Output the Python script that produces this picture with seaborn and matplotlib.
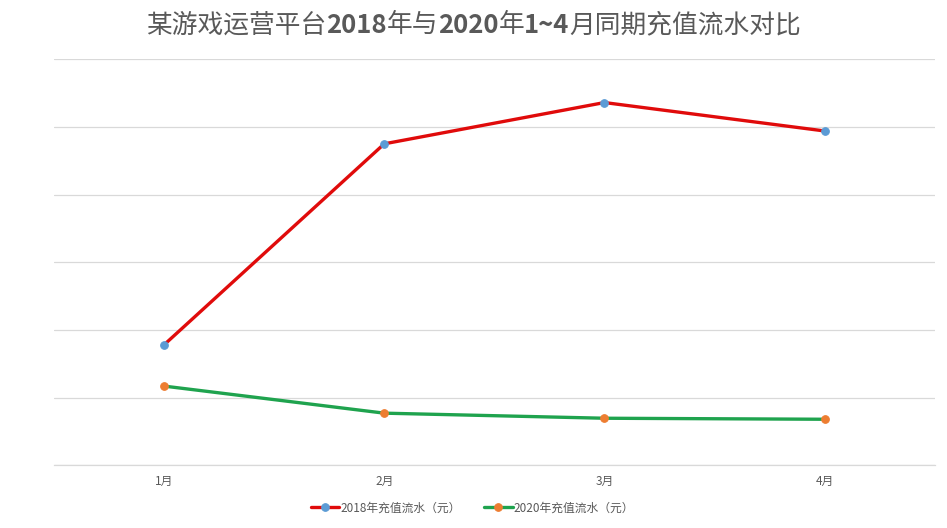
import matplotlib
matplotlib.use("Agg")
import matplotlib.pyplot as plt
import pandas as pd
import seaborn as sns

# 数据（纵轴刻度在原图中被打码，数值按网格估读）
months = ["1月", "2月", "3月", "4月"]
series_names = ["2018年充值流水（元）", "2020年充值流水（元）"]
flow_2018 = [17.8, 47.5, 53.6, 49.4]
flow_2020 = [11.7, 7.7, 6.95, 6.8]

line_colors = ["#E00B0B", "#1FA34E"]
marker_colors = ["#5B9BD5", "#ED7D31"]

# 标题分段：数字部分为粗体
title_parts = [("某游戏运营平台", "normal"), ("2018", "bold"), ("年与", "normal"),
               ("2020", "bold"), ("年", "normal"), ("1~4", "bold"),
               ("月同期充值流水对比", "normal")]

df = pd.DataFrame({
    "month": months * 2,
    "value": flow_2018 + flow_2020,
    "series": [series_names[0]] * 4 + [series_names[1]] * 4,
})

sns.set_theme(style="white")
plt.rcParams["font.family"] = ["Noto Sans CJK SC", "DejaVu Sans"]

fig = plt.figure(figsize=(9.47, 5.28), dpi=100)
ax = fig.add_axes([0.057, 0.1188, 0.93, 0.769])

sns.lineplot(data=df, x="month", y="value", hue="series",
             palette=line_colors, hue_order=series_names,
             marker="o", markersize=5.5, linewidth=2.4,
             legend=False, ax=ax)

# 折线与标记颜色不同（Excel 默认风格）
for line, mc in zip(ax.lines, marker_colors):
    line.set_markerfacecolor(mc)
    line.set_markeredgecolor(mc)

ax.set_xlim(-0.5, 3.5)
ax.set_ylim(0, 60)
ax.set_yticks(range(0, 61, 10))
ax.set_yticklabels([])
ax.tick_params(axis="y", length=0)
ax.tick_params(axis="x", length=0, labelsize=8.5, colors="#595959", pad=7)
ax.yaxis.grid(True, color="#D9D9D9", linewidth=0.9)
ax.set_xlabel("")
ax.set_ylabel("")
for side in ["top", "right", "left"]:
    ax.spines[side].set_visible(False)
ax.spines["bottom"].set_color("#D9D9D9")
ax.spines["bottom"].set_linewidth(0.9)

# 标题：先量宽度再居中拼接
renderer = fig.canvas.get_renderer()
pieces = []
total = 0
for s, w in title_parts:
    t = fig.text(0, 0.952, s, ha="left", va="center", fontsize=18.5,
                 fontweight=w, color="#595959")
    width = t.get_window_extent(renderer).width
    pieces.append((t, width))
    total += width
x0 = (fig.bbox.width - total) / 2
for t, width in pieces:
    t.set_x(x0 / fig.bbox.width)
    x0 += width

fig.legend(handles=ax.lines[:2], labels=series_names, loc="center",
           bbox_to_anchor=(0.499, 0.038), ncol=2, frameon=False,
           fontsize=8.5, labelcolor="#595959", handlelength=2.4,
           handletextpad=0.1, columnspacing=2.0)

fig.savefig("out.png", dpi=100)
